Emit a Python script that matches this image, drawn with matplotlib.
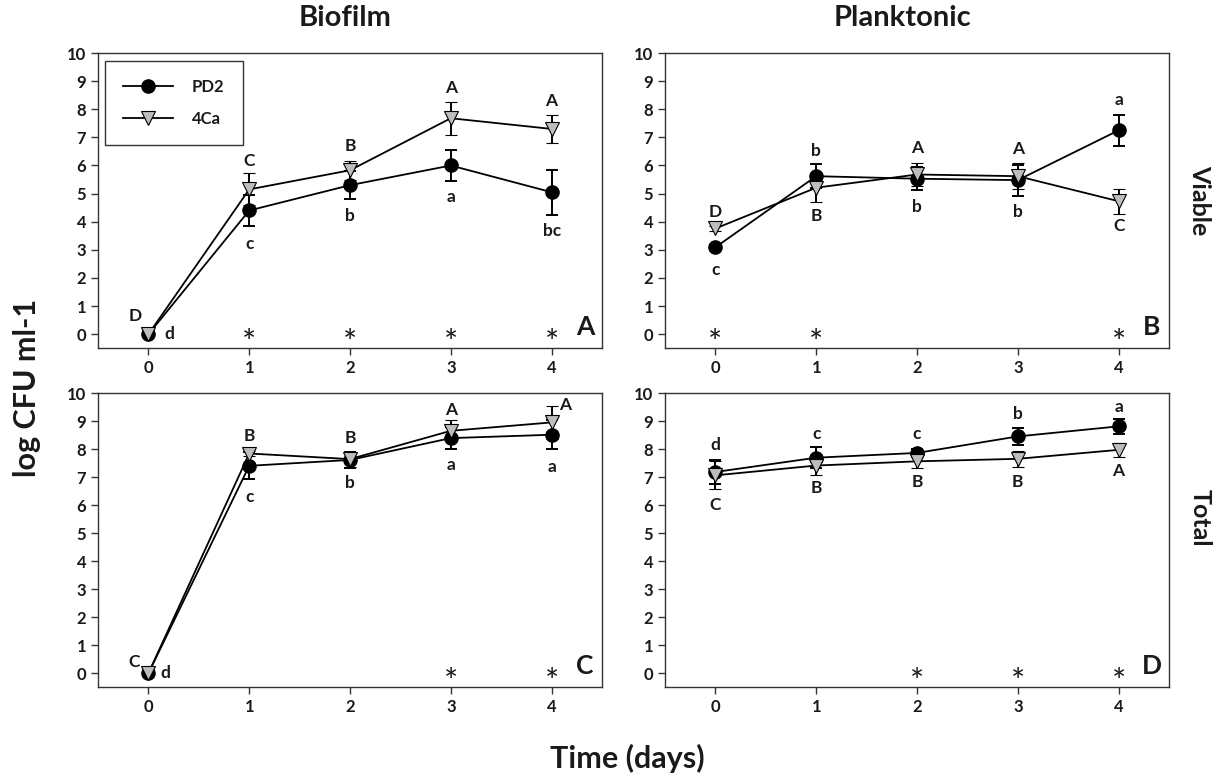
import numpy as np
import matplotlib
matplotlib.use('Agg')
import matplotlib.pyplot as plt
from matplotlib.lines import Line2D

plt.rcParams['font.family'] = ['Lato', 'DejaVu Sans']
plt.rcParams['font.weight'] = 'bold'

days = [0, 1, 2, 3, 4]

# panel A: biofilm, viable
pd2_bv = [0, 4.4, 5.3, 6.0, 5.05]
pd2_bv_err = [0.05, 0.55, 0.5, 0.55, 0.8]
ca_bv = [0, 5.15, 5.83, 7.68, 7.3]
ca_bv_err = [0.05, 0.57, 0.34, 0.58, 0.49]

# panel B: planktonic, viable
pd2_pv = [3.09, 5.62, 5.53, 5.48, 7.25]
pd2_pv_err = [0.1, 0.42, 0.4, 0.55, 0.54]
ca_pv = [3.76, 5.21, 5.68, 5.62, 4.73]
ca_pv_err = [0.1, 0.5, 0.42, 0.46, 0.45]

# panel C: biofilm, total
pd2_bt = [0, 7.41, 7.62, 8.40, 8.52]
pd2_bt_err = [0.05, 0.48, 0.27, 0.39, 0.51]
ca_bt = [0, 7.85, 7.65, 8.66, 8.96]
ca_bt_err = [0.05, 0.1, 0.27, 0.38, 0.59]

# panel D: planktonic, total
pd2_pt = [7.19, 7.70, 7.87, 8.46, 8.82]
pd2_pt_err = [0.43, 0.38, 0.15, 0.3, 0.26]
ca_pt = [7.07, 7.42, 7.57, 7.66, 7.98]
ca_pt_err = [0.5, 0.32, 0.23, 0.28, 0.24]

# significance letters: (x, y, text)
letters_a = [(-0.13, 0.64, 'D'), (0.21, 0, 'd'), (1, 6.17, 'C'), (1, 3.22, 'c'),
             (2, 6.68, 'B'), (2, 4.22, 'b'), (3, 8.76, 'A'), (3, 4.89, 'a'),
             (4, 8.31, 'A'), (4, 3.66, 'bc')]
letters_b = [(0, 4.35, 'D'), (0, 2.29, 'c'), (1, 6.52, 'b'), (1, 4.22, 'B'),
             (2, 6.63, 'A'), (2, 4.53, 'b'), (3, 6.58, 'A'), (3, 4.34, 'b'),
             (4, 8.32, 'a'), (4, 3.84, 'C')]
letters_c = [(-0.14, 0.42, 'C'), (0.17, 0, 'd'), (1, 8.48, 'B'), (1, 6.29, 'c'),
             (2, 8.40, 'B'), (2, 6.79, 'b'), (3, 9.40, 'A'), (3, 7.44, 'a'),
             (4.13, 9.58, 'A'), (4, 7.38, 'a')]
letters_d = [(0, 8.14, 'd'), (0, 6.0, 'C'), (1, 8.55, 'c'), (1, 6.63, 'B'),
             (2, 8.55, 'c'), (2, 6.85, 'B'), (3, 9.26, 'b'), (3, 6.85, 'B'),
             (4, 9.5, 'a'), (4, 7.22, 'A')]

stars_a = [1, 2, 3, 4]
stars_b = [0, 1, 4]
stars_c = [3, 4]
stars_d = [2, 3, 4]

W, H = 1225, 778
TXT = '#1a1a1a'


def rect(l, r, t, b):
    return [l / W, 1 - b / H, (r - l) / W, (b - t) / H]


def draw_panel(ax, pd2, pd2_err, ca, ca_err, letters, stars, tag):
    ax.errorbar(days, pd2, yerr=pd2_err, color='black', marker='o', markersize=9.5,
                markerfacecolor='black', markeredgecolor='black', linewidth=1.3,
                elinewidth=1.4, capsize=4, capthick=1.4, zorder=3)
    ax.errorbar(days, ca, yerr=ca_err, color='black', marker='v', markersize=10,
                markerfacecolor='#bdbdbd', markeredgecolor='black', markeredgewidth=0.8,
                linewidth=1.3, elinewidth=1.4, capsize=4, capthick=1.4, zorder=4)
    for x, y, s in letters:
        ax.text(x, y, s, ha='center', va='center', fontsize=12.5, color=TXT)
    for x in stars:
        ax.text(x, -0.35, '*', ha='center', va='center', fontsize=24,
                fontweight='normal', color=TXT)
    ax.text(4.33, 0.26, tag, ha='center', va='center', fontsize=19, color=TXT)
    ax.set_xlim(-0.5, 4.5)
    ax.set_ylim(-0.5, 10)
    ax.set_xticks(days)
    ax.set_yticks(range(0, 11))
    ax.tick_params(direction='out', length=5, width=1, labelsize=12,
                   colors='#333333', labelcolor=TXT, top=False, right=False)
    for sp in ax.spines.values():
        sp.set_color('#333333')
        sp.set_linewidth(1)


fig = plt.figure(figsize=(W / 100, H / 100), dpi=100)
ax_a = fig.add_axes(rect(98, 602, 53, 348.3))
ax_b = fig.add_axes(rect(665, 1169, 53, 348.3))
ax_c = fig.add_axes(rect(98, 602, 393.3, 687.3))
ax_d = fig.add_axes(rect(665, 1169, 393.3, 687.3))

draw_panel(ax_a, pd2_bv, pd2_bv_err, ca_bv, ca_bv_err, letters_a, stars_a, 'A')
draw_panel(ax_b, pd2_pv, pd2_pv_err, ca_pv, ca_pv_err, letters_b, stars_b, 'B')
draw_panel(ax_c, pd2_bt, pd2_bt_err, ca_bt, ca_bt_err, letters_c, stars_c, 'C')
draw_panel(ax_d, pd2_pt, pd2_pt_err, ca_pt, ca_pt_err, letters_d, stars_d, 'D')

handles = [Line2D([], [], color='black', marker='o', markersize=9.5, linewidth=1.3,
                  markerfacecolor='black'),
           Line2D([], [], color='black', marker='v', markersize=10, linewidth=1.3,
                  markerfacecolor='#bdbdbd', markeredgewidth=0.8)]
leg = ax_a.legend(handles, ['PD2', '4Ca'], loc='upper left',
                  bbox_to_anchor=(0.014, 0.973), fontsize=12,
                  frameon=True, fancybox=False, borderpad=1.1, labelspacing=0.95,
                  handlelength=3.0, handletextpad=1.1, borderaxespad=0)
leg.get_frame().set_edgecolor('black')
leg.get_frame().set_linewidth(1)
for t in leg.get_texts():
    t.set_color(TXT)
    t.set_fontweight('bold')

fig.text(345 / W, 1 - 18 / H, 'Biofilm', ha='center', va='center', fontsize=21, color=TXT)
fig.text(903 / W, 1 - 18 / H, 'Planktonic', ha='center', va='center', fontsize=21, color=TXT)
fig.text(627 / W, 1 - 758 / H, 'Time (days)', ha='center', va='center', fontsize=22, color=TXT)
fig.text(27 / W, 1 - 388 / H, 'log CFU ml-1', ha='center', va='center', fontsize=22,
         rotation=90, color=TXT)
fig.text(1200 / W, 1 - 200 / H, 'Viable', ha='center', va='center', fontsize=18,
         rotation=-90, color=TXT)
fig.text(1200 / W, 1 - 518 / H, 'Total', ha='center', va='center', fontsize=18,
         rotation=-90, color=TXT)

fig.savefig('out.png', dpi=100)
